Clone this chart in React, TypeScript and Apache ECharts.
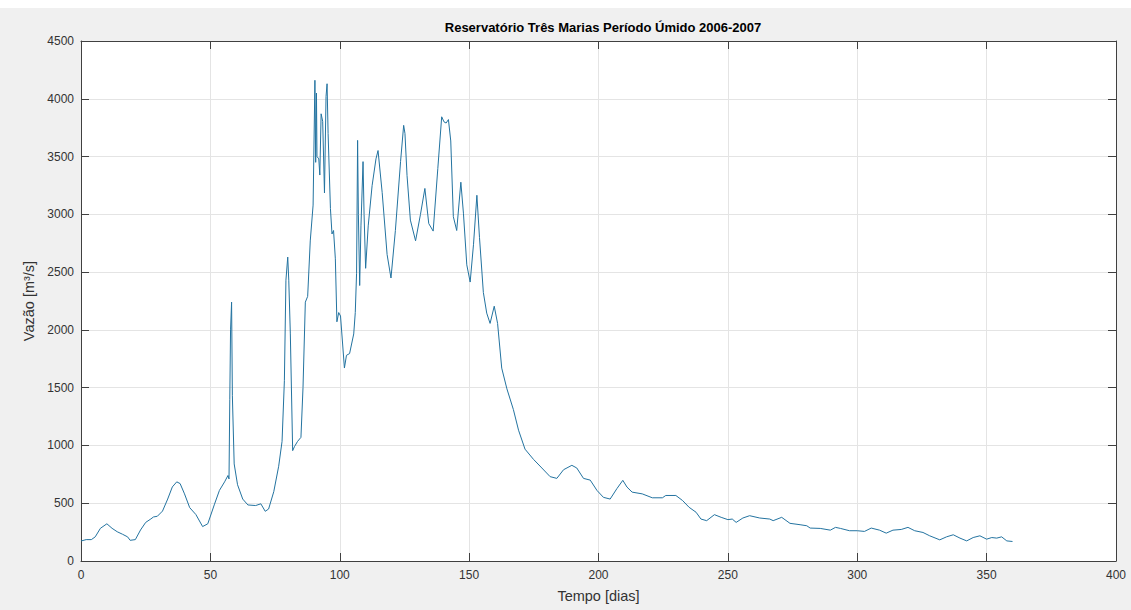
import React, { useEffect, useRef } from "react";
import * as echarts from "echarts";

const chartTitle = "Reservatório Três Marias Período Úmido 2006-2007";
const xAxisName = "Tempo [dias]";
const yAxisName = "Vazão [m³/s]";

const days = [
  0, 2, 4, 5.5, 7.5, 10, 12, 14, 16, 18, 19, 21, 23, 25, 27, 28, 29.5, 31.5, 33.5, 35.3,
  37, 38.3, 40, 42, 44.4, 47, 49, 51.6, 53.5, 55.5, 56.8, 57.2, 57.5, 57.8, 58.2, 58.5, 59.2, 60.5,
  62.5, 64.5, 67.5, 69.5, 71.2, 72.5, 74.5, 76.4, 77.7, 78.6, 79.2, 79.9, 80.3, 80.9, 81.8, 82.5,
  83.7, 85, 85.8, 86.7, 87.6, 88.6, 89.7, 90.4, 90.7, 91, 91.2, 91.9, 92.3, 92.8, 93.4, 94.1,
  94.7, 95.1, 95.5, 96.4, 97, 97.6, 98.3, 98.9, 99.6, 100.3, 101.8, 102.6, 103.8, 105.4, 106,
  106.5, 106.9, 107.2, 107.7, 108.2, 109, 109.4, 110, 111, 112.5, 114, 114.8, 116.4, 118.3,
  119.8, 121.5, 123.5, 124.7, 125.2, 126, 127.3, 129.3, 131.2, 132.9, 134.4, 136.1, 137.9,
  139.4, 140.3, 141.1, 142, 142.9, 143.9, 145.2, 146.8, 147.8, 149.1, 150.4, 151.7, 153, 154,
  155.5, 156.8, 158.1, 159.7, 161, 162.6, 164.6, 167.1, 169.1, 171.6, 174.9, 178.1, 181.3,
  183.9, 186.5, 189.7, 191.6, 194.2, 196.8, 199.4, 201.9, 204.5, 207.1, 209.4, 211, 213, 216.9,
  220.8, 224.7, 226, 229.9, 232.5, 235, 237.7, 239.6, 241.8, 244.8, 247.4, 250, 251.7, 253.2,
  255.8, 258.4, 262.3, 266.2, 267.5, 270.8, 274, 277.9, 280.5, 281.8, 285.7, 289.6, 291.6,
  293.5, 297, 300, 302.8, 305.4, 308.6, 311.2, 313.8, 317, 319.6, 322.2, 325.4, 328, 331.9,
  334.5, 337.1, 339.7, 342.3, 344.8, 347.4, 350, 352, 353.9, 355.8, 357.8, 360,
];

const vazao = [
  173, 185, 185, 209, 283, 322, 283, 253, 232, 209, 179, 185, 268, 334, 364, 381, 387, 432, 536, 641,
  685, 670, 581, 462, 402, 298, 322, 492, 611, 685, 740, 710, 1400, 2000, 2240, 1430, 840, 660,
  536, 485, 480, 495, 430, 450, 600, 820, 1035, 1560, 2430, 2630, 2430, 1965, 955, 990,
  1035, 1070, 1500, 2240, 2290, 2770, 3080, 4160, 3450, 4050, 3500, 3480, 3340, 3870, 3805, 3185,
  4020, 4130, 3700, 3050, 2830, 2860, 2615, 2070, 2150, 2120, 1670, 1780, 1795, 1965, 2150,
  2490, 3640, 3000, 2384, 2900, 3456, 3000, 2533, 2900, 3248, 3480, 3552, 3188, 2652,
  2449, 2860, 3456, 3770, 3700, 3337, 2950, 2771, 3000, 3224, 2920, 2855, 3397,
  3844, 3800, 3790, 3820, 3635, 2980, 2860, 3278, 3010, 2563, 2414, 2741, 3165, 2801,
  2324, 2145, 2056, 2205, 2056, 1669, 1490, 1311, 1132, 968, 879, 805, 730,
  715, 790, 828, 805, 715, 700, 611, 551, 536, 626, 698, 640, 596, 581,
  547, 547, 567, 567, 523, 465, 422, 363, 349, 401, 378, 358, 363, 334,
  372, 392, 372, 363, 349, 378, 326, 314, 305, 285, 282, 267, 291,
  282, 262, 262, 256, 285, 267, 241, 267, 273, 291, 262, 247, 218, 183,
  209, 227, 198, 174, 203, 218, 189, 203, 198, 209, 174, 169,
];

const xMin = 0;
const xMax = 400;
const xStep = 50;
const yMin = 0;
const yMax = 4500;
const yStep = 500;

export default function App() {
  const ref = useRef<HTMLDivElement>(null);

  useEffect(() => {
    if (!ref.current) return;
    const chart = echarts.init(ref.current, undefined, { renderer: "svg" });
    const font = "Arial, 'Liberation Sans', Helvetica, sans-serif";
    const axisLineStyle = { color: "#404040", width: 1 };
    const points = days.map((d, i) => [d, vazao[i]]);
    const plain = (v: number) => String(v);

    chart.setOption({
      animation: false,
      backgroundColor: "#f0f0f0",
      textStyle: { fontFamily: font },
      title: {
        text: chartTitle,
        left: 598,
        top: 16,
        textAlign: "center",
        textStyle: { fontSize: 13, fontWeight: "bold", color: "#000", fontFamily: font },
      },
      graphic: [
        {
          type: "rect",
          shape: { x: 0, y: 0, width: 1131, height: 8 },
          style: { fill: "#ffffff" },
          silent: true,
        },
      ],
      grid: {
        left: 81,
        right: 15,
        top: 41,
        bottom: 49,
        show: true,
        backgroundColor: "#ffffff",
        borderWidth: 0,
      },
      xAxis: [
        {
          type: "value",
          min: xMin,
          max: xMax,
          interval: xStep,
          position: "bottom",
          name: xAxisName,
          nameLocation: "middle",
          nameGap: 27,
          nameTextStyle: { fontSize: 14.5, color: "#333", fontFamily: font },
          axisLine: { show: true, lineStyle: axisLineStyle },
          axisTick: { show: true, inside: true, length: 8, lineStyle: axisLineStyle },
          axisLabel: { color: "#333", fontSize: 12, margin: 8, fontFamily: font, formatter: plain },
          splitLine: { show: true, lineStyle: { color: "#e4e4e4", width: 1 } },
        },
        {
          type: "value",
          min: xMin,
          max: xMax,
          interval: xStep,
          position: "top",
          axisLine: { show: true, onZero: false, lineStyle: axisLineStyle },
          axisTick: { show: true, inside: true, length: 8, lineStyle: axisLineStyle },
          axisLabel: { show: false },
          splitLine: { show: false },
        },
      ],
      yAxis: [
        {
          type: "value",
          min: yMin,
          max: yMax,
          interval: yStep,
          position: "left",
          name: yAxisName,
          nameLocation: "middle",
          nameGap: 41,
          nameTextStyle: { fontSize: 14.5, color: "#333", fontFamily: font },
          axisLine: { show: true, lineStyle: axisLineStyle },
          axisTick: { show: true, inside: true, length: 8, lineStyle: axisLineStyle },
          axisLabel: { color: "#333", fontSize: 12, margin: 7, fontFamily: font, formatter: plain },
          splitLine: { show: true, lineStyle: { color: "#e4e4e4", width: 1 } },
        },
        {
          type: "value",
          min: yMin,
          max: yMax,
          interval: yStep,
          position: "right",
          axisLine: { show: true, onZero: false, lineStyle: axisLineStyle },
          axisTick: { show: true, inside: true, length: 8, lineStyle: axisLineStyle },
          axisLabel: { show: false },
          splitLine: { show: false },
        },
      ],
      series: [
        {
          type: "line",
          xAxisIndex: 0,
          yAxisIndex: 0,
          data: points,
          showSymbol: false,
          symbol: "none",
          lineStyle: { color: "#2373a0", width: 1 },
        },
      ],
    });

    return () => chart.dispose();
  }, []);

  return (
    <div
      ref={ref}
      style={{ position: "absolute", left: 0, top: 0, width: 1131, height: 610 }}
    />
  );
}
